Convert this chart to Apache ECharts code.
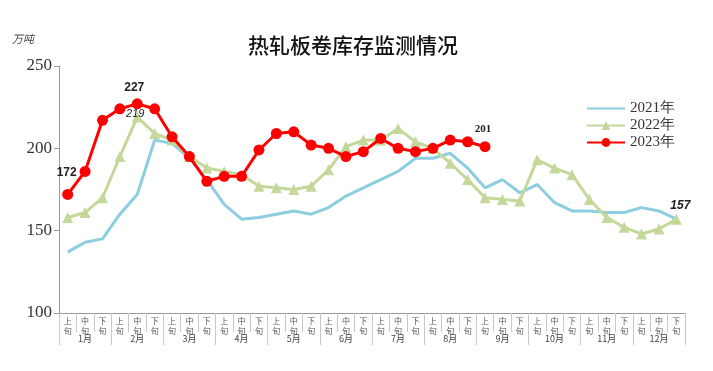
<!DOCTYPE html>
<html><head><meta charset="utf-8">
<script src="https://cdn.jsdelivr.net/npm/echarts@6/dist/echarts.min.js"></script>
<style>html,body{margin:0;padding:0;background:#fff}#c{width:713px;height:371px}</style>
</head><body><div id="c"></div>
<script>
const months = ['1月','2月','3月','4月','5月','6月','7月','8月','9月','10月','11月','12月'];
const tenDays = ['上\n旬','中\n旬','下\n旬'];
const categories = [];
months.forEach(m => tenDays.forEach(t => categories.push(t)));
const s2021 = [137,143,145,160,172,205,203,194,181,166,157,158,160,162,160,164,171,176,181,186,194,194,197,188,176,181,173,178,167,162,162,161,161,164,162,157];
const s2022 = [158,161,170,195,219,209,205,195,188,186,184,177,176,175,177,187,201,205,205,212,204,200,191,181,170,169,168,193,188,184,169,158,152,148,151,157];
const s2023 = [172,186,217,224,227,224,207,195,180,183,183,199,209,210,202,200,195,198,206,200,198,200,205,204,201];
const yTicks = {min:100, max:250, interval:50};

const chart = echarts.init(document.getElementById('c'), null, {renderer:'canvas'});

const boldSans = {fontWeight:'bold', fontFamily:'Arial', fontSize:12, color:'#222'};
const redData = s2023.map((v,i) => {
  if (i === 0) return {value:v, label:Object.assign({show:true, position:'top', offset:[-1,-5]}, boldSans)};
  if (i === 4) return {value:v, label:Object.assign({show:true, position:'top', offset:[-3,0]}, boldSans)};
  if (i === s2023.length-1) return {value:v, label:{show:true, position:'top', offset:[-2,-2], fontWeight:'bold', fontFamily:'Liberation Serif', fontSize:11, color:'#222'}};
  return v;
});
const greenData = s2022.map((v,i) => {
  if (i === 4) return {value:v, label:{show:true, position:'top', offset:[-2,13], fontStyle:'italic', fontFamily:'Arial', fontSize:11, color:'#222'}};
  if (i === s2022.length-1) return {value:v, label:{show:true, position:'top', offset:[4,3], fontStyle:'italic', fontWeight:'bold', fontFamily:'Arial', fontSize:12, color:'#222'}};
  return v;
});

chart.setOption({
  animation:false,
  backgroundColor:'#fff',
  title:{text:'热轧板卷库存监测情况', left:243, top:30, textStyle:{fontFamily:'Noto Sans CJK SC', fontSize:21, fontWeight:500, color:'#111'}},
  graphic:[{type:'text', left:12, top:33, style:{text:'万吨', fontFamily:'Noto Sans CJK SC', fontSize:11, fill:'#444', fontStyle:'italic'}}],
  legend:{orient:'vertical', left:581, top:96, itemWidth:38, itemHeight:11, itemGap:2,
    textStyle:{fontFamily:'Liberation Serif', fontSize:15, lineHeight:15, color:'#333'},
    data:[{name:'2021年', itemStyle:{opacity:0}},'2022年','2023年']},
  grid:{left:59, right:28, top:66, bottom:58, containLabel:false},
  xAxis:[
    {type:'category', data:categories, boundaryGap:true,
     axisLine:{show:true, lineStyle:{color:'#999', width:1}},
     axisTick:{show:true, interval:0, length:19, lineStyle:{color:'#c8c8c8'}},
     axisLabel:{interval:0, fontSize:8, lineHeight:10, margin:3, color:'#555', fontFamily:'Noto Sans CJK SC'}},
    {type:'category', data:months, position:'bottom', boundaryGap:true,
     axisLine:{show:false},
     axisTick:{show:true, interval:0, length:32, lineStyle:{color:'#c8c8c8'}},
     axisLabel:{interval:0, fontSize:9, margin:21, color:'#444', fontFamily:'Noto Sans CJK SC'}}
  ],
  yAxis:{type:'value', min:yTicks.min, max:yTicks.max, interval:yTicks.interval,
    axisLine:{show:true, lineStyle:{color:'#999'}},
    axisTick:{show:true, length:5, lineStyle:{color:'#999'}},
    splitLine:{show:false},
    axisLabel:{fontFamily:'Liberation Serif', fontSize:17, color:'#333', margin:7}},
  series:[
    {name:'2021年', type:'line', data:s2021, symbol:'none', lineStyle:{color:'#8ccde0', width:3}, itemStyle:{color:'#8ccde0'}, z:1},
    {name:'2022年', type:'line', data:greenData, symbol:'triangle', symbolSize:11, lineStyle:{color:'#c4d89b', width:3}, itemStyle:{color:'#c4d89b'}, z:2},
    {name:'2023年', type:'line', data:redData, symbol:'circle', symbolSize:11, lineStyle:{color:'#ff0000', width:3}, itemStyle:{color:'#ff0000'}, z:3}
  ]
});
</script></body></html>
